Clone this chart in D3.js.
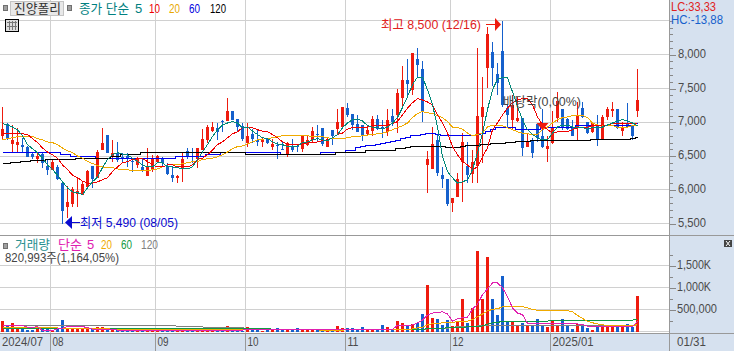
<!DOCTYPE html>
<html><head><meta charset="utf-8">
<script src="https://cdn.jsdelivr.net/npm/d3@7/dist/d3.min.js"></script>
<style>html,body{margin:0;padding:0;background:#fff;overflow:hidden}svg{display:block}
text{font-family:"Liberation Sans","Noto Sans CJK KR",sans-serif;font-size:13px}</style>
</head><body><svg id="c" width="734" height="351"></svg>
<script>
const opens=[6800,6980,6680,6670,6670,6640,6530,6450,6530,6360,6300,6340,6100,5750,5790,5940,5930,6050,6360,6180,6590,6810,6500,6550,6490,6500,6430,6370,6340,6210,6310,6420,6450,6340,6220,6180,6310,6580,6560,6460,6590,6740,6870,6920,7020,7020,7160,7050,6950,6700,6820,6740,6710,6770,6640,6670,6610,6520,6650,6650,6610,6670,6740,6830,6920,6640,6890,6900,6930,7210,7130,6980,6960,6820,6870,7050,6930,6860,7100,7110,7360,7630,7480,7930,7790,6370,6310,6740,6220,6160,5810,5900,6420,6360,6240,6360,7080,7810,8040,7720,8060,7210,7040,7020,7070,6640,6740,6980,6790,6610,6700,7070,7190,7050,6920,6920,7210,7010,6860,6960,6740,7080,7160,7190,6870,6990,6950,7160];
const closes=[6900,6760,6740,6710,6640,6490,6480,6500,6400,6300,6420,6160,5690,5820,6020,5990,6090,6280,6160,6560,6700,6550,6550,6440,6460,6470,6420,6450,6280,6340,6460,6500,6400,6240,6180,6210,6460,6480,6550,6620,6760,6930,6930,6860,7000,7160,7040,6930,6760,6800,6760,6710,6760,6700,6680,6650,6590,6700,6590,6640,6790,6740,6870,6810,6680,6760,6790,7010,7230,7110,6960,6860,6800,6890,7050,6900,6900,7040,7010,7440,7630,7560,8030,7850,7160,6450,6680,6250,6160,5790,5880,6160,6710,6220,6420,7100,7230,8310,7810,7580,7260,7110,7260,7070,6620,6730,6550,6770,6640,6650,6920,7320,6930,6900,6800,7110,7080,6840,6990,6740,7080,7190,7190,6920,6920,6930,6800,7330];
const highs=[7230,6990,6960,6920,6770,6650,6560,6560,6550,6450,6450,6370,6110,6060,6050,6180,6120,6300,6360,6590,6920,6810,6740,6710,6550,6550,6450,6480,6450,6620,6520,6520,6490,6400,6360,6220,6560,6620,6620,6620,6900,6960,7010,6990,7040,7360,7160,7050,6990,6990,6900,6890,6770,6770,6760,6710,6710,6710,6760,6680,6810,6790,6930,6960,6920,6770,6890,7190,7230,7290,7130,7110,6960,6950,7100,7110,7040,7200,7190,7500,7840,7940,8030,8100,7910,6580,6930,6810,6340,6160,5880,6250,6840,6710,6590,8100,7670,8410,8190,7870,8500,7260,7410,7380,7070,6820,6770,6980,7200,6790,7160,7450,7190,7070,7040,7300,7300,7010,7010,7110,7110,7230,7300,7190,7010,7290,6950,7790];
const lows=[6740,6740,6560,6560,6560,6480,6450,6400,6330,6220,6300,6150,5490,5590,5750,5750,5930,6050,6030,6170,6590,6540,6410,6420,6400,6340,6270,6330,6270,6210,6270,6400,6340,6220,6120,6100,6120,6450,6400,6330,6590,6700,6860,6740,6860,7020,7040,6860,6730,6640,6700,6650,6640,6680,6590,6450,6590,6490,6560,6560,6560,6650,6710,6710,6650,6640,6670,6820,6930,7080,6890,6860,6730,6800,6800,6890,6770,6790,6950,6840,7230,7380,7410,7670,7010,5960,6310,6210,6030,5760,5670,5900,5820,6100,6100,6100,6400,7510,7530,7410,7230,6930,6890,7010,6500,6640,6470,6710,6620,6410,6680,7010,6890,6890,6790,6740,7070,6830,6840,6650,6740,7040,7080,6900,6800,6920,6740,7080];

const ma5=[6980,6960,6930,6890,6800,6670,6610,6550,6470,6370,6300,6220,6120,6030,5970,5960,5930,6030,6120,6190,6330,6450,6520,6550,6530,6520,6470,6420,6370,6340,6340,6400,6400,6340,6340,6330,6310,6310,6340,6450,6560,6670,6790,6890,6960,6990,7010,6990,6920,6930,6870,6820,6770,6760,6710,6680,6670,6640,6640,6650,6700,6710,6740,6760,6740,6730,6770,6820,6920,6990,7040,7050,7020,6950,6930,6920,6900,6930,6990,7070,7220,7380,7560,7670,7670,7480,7260,6930,6490,6270,6180,6100,6120,6150,6300,6550,6840,7190,7480,7640,7660,7660,7450,7230,7040,6890,6820,6770,6740,6740,6840,6930,6960,6960,6930,6920,6920,6900,6920,6920,6930,6960,6990,7020,7040,7020,6990,6950];
const ma10=[6840,6840,6840,6840,6830,6820,6760,6700,6620,6560,6520,6470,6370,6300,6220,6180,6130,6100,6100,6120,6150,6180,6270,6340,6400,6420,6450,6460,6460,6420,6370,6340,6340,6370,6370,6340,6340,6340,6370,6450,6470,6520,6590,6670,6710,6770,6830,6860,6920,6930,6920,6890,6870,6860,6820,6770,6710,6680,6670,6670,6680,6700,6700,6710,6730,6740,6770,6820,6840,6900,6920,6920,6930,6930,6950,6960,6960,6960,6980,7010,7110,7210,7290,7350,7330,7300,7260,7110,6990,6840,6640,6520,6420,6370,6300,6340,6490,6620,6890,6990,7110,7210,7290,7330,7350,7350,7260,7080,6960,6890,6840,6860,6860,6860,6890,6920,6930,6930,6950,6950,6960,6960,6980,6980,6980,6980,6980,6990];
const ma20=[6740,6760,6770,6790,6790,6790,6790,6760,6740,6710,6700,6670,6620,6580,6550,6500,6470,6420,6390,6360,6340,6330,6330,6310,6300,6300,6280,6280,6280,6280,6300,6310,6340,6370,6370,6370,6390,6400,6420,6420,6450,6460,6470,6490,6520,6560,6610,6640,6650,6680,6710,6740,6750,6760,6770,6790,6800,6800,6800,6800,6800,6800,6790,6790,6790,6770,6760,6760,6760,6770,6790,6790,6800,6810,6820,6830,6840,6860,6890,6920,6950,6990,7070,7130,7160,7140,7130,7100,7070,7010,6930,6920,6900,6840,6800,6820,6840,6930,6960,6960,6950,6920,6890,6860,6840,6830,6820,6820,6890,6930,6990,7040,7070,7080,7100,7100,7100,7070,6990,6960,6960,6960,6950,6930,6920,6930,6950,6960];
const ma60=[6550,6550,6550,6560,6560,6560,6560,6560,6560,6550,6550,6550,6530,6520,6500,6490,6490,6490,6490,6470,6470,6470,6470,6470,6470,6470,6470,6470,6470,6470,6470,6470,6470,6470,6470,6490,6490,6490,6490,6490,6500,6520,6530,6530,6550,6550,6550,6550,6550,6550,6550,6550,6550,6550,6550,6550,6530,6530,6530,6530,6530,6530,6530,6530,6550,6550,6550,6550,6550,6580,6590,6620,6640,6650,6650,6670,6680,6700,6710,6730,6760,6770,6800,6800,6820,6830,6830,6820,6800,6800,6800,6800,6800,6800,6800,6820,6840,6860,6900,6920,6920,6920,6920,6900,6900,6900,6900,6900,6920,6920,6920,6920,6930,6930,6930,6950,6950,6960,6960,6960,6960,6960,6960,6960,6960,6960,6960,6980];
const ma120=[6390,6390,6400,6400,6420,6420,6430,6430,6430,6450,6450,6450,6450,6450,6450,6460,6460,6460,6460,6460,6460,6470,6490,6490,6520,6520,6530,6530,6550,6550,6550,6550,6560,6560,6560,6560,6560,6560,6560,6560,6550,6550,6550,6550,6550,6560,6560,6560,6550,6530,6530,6530,6530,6530,6530,6530,6530,6530,6530,6530,6530,6530,6520,6520,6520,6520,6530,6550,6550,6560,6560,6560,6560,6580,6580,6580,6590,6590,6590,6610,6610,6620,6640,6640,6640,6640,6640,6640,6640,6620,6620,6620,6640,6650,6650,6650,6670,6670,6680,6680,6680,6700,6700,6710,6710,6710,6730,6730,6730,6730,6730,6730,6730,6730,6730,6730,6730,6730,6740,6740,6740,6740,6740,6740,6740,6740,6760,6770];

const volumes=[250,145,205,115,85,45,45,70,85,60,30,75,270,70,70,60,60,60,60,115,115,60,50,50,45,30,25,25,30,25,30,25,25,25,30,25,30,25,25,20,25,25,20,25,25,135,25,30,25,115,60,60,25,85,30,85,40,30,30,75,45,45,45,30,30,25,25,135,85,85,85,60,115,60,60,45,145,115,55,235,205,145,180,205,410,1070,320,295,160,270,135,220,730,205,545,1840,750,1690,750,385,1270,250,235,120,195,120,120,295,145,100,235,135,295,145,70,175,145,75,45,160,135,115,135,105,115,180,105,820];
const vol5=[144,144,144,144,144,98,98,110,23,23,23,60,76,114,114,114,114,90,53,53,53,53,53,35,23,35,35,35,35,35,35,35,35,35,35,35,35,35,35,35,35,35,35,35,35,35,35,35,35,45,45,45,45,45,45,45,45,45,45,45,45,45,45,45,45,45,45,45,45,45,45,45,45,45,50,50,50,50,50,144,144,148,150,200,260,375,420,440,447,400,235,290,320,330,510,620,840,970,1105,1105,1000,790,540,420,386,190,174,174,174,174,174,174,174,174,174,174,160,121,121,121,121,121,121,121,121,121,121,235];
const vol20=[90,90,90,90,98,98,98,85,85,85,85,85,68,68,68,68,68,68,68,68,68,68,50,50,50,50,50,50,50,50,50,50,50,50,50,50,50,50,50,50,50,50,50,50,50,50,50,50,50,40,40,40,40,40,40,40,40,40,40,40,40,40,40,40,30,30,30,35,35,40,45,45,45,45,45,45,45,45,45,45,50,50,60,83,98,160,180,190,197,197,210,225,235,240,270,340,400,470,505,520,560,570,580,580,570,540,500,485,485,485,485,485,485,475,450,370,300,235,200,175,155,140,140,140,140,140,135,160];
const vol60=[80,80,80,80,80,80,80,80,80,80,80,80,75,75,75,75,75,75,75,75,75,75,75,75,75,75,75,70,70,70,70,70,70,70,70,70,70,70,70,70,70,70,70,70,70,70,70,70,70,75,75,75,75,75,50,50,50,50,50,50,50,50,50,50,50,50,50,50,50,50,50,50,50,50,50,50,50,50,50,50,50,50,50,50,50,70,70,70,70,95,95,95,95,110,110,110,130,170,200,210,230,235,235,235,235,240,240,240,240,240,245,245,245,250,250,250,250,255,255,255,255,260,260,260,260,260,260,290];
const vol120=[145,145,145,145,145,145,145,145,145,145,145,145,145,145,145,145,145,145,145,145,145,145,145,145,145,145,145,145,145,145,145,145,145,145,145,120,105,105,105,105,105,85,85,85,85,85,85,85,85,70,70,70,70,70,45,45,45,45,45,45,45,45,45,45,45,45,45,45,45,45,45,45,45,45,45,45,45,45,45,45,45,45,45,45,45,60,60,60,60,70,100,110,110,110,110,130,135,140,145,145,145,145,145,145,145,145,145,145,145,145,145,145,145,145,145,145,145,145,145,145,145,145,145,145,145,145,145,150];

const monthLabels=["2024/07","08","09","10","11","12","2025/01"];
const monthIdx=[0,10,31,49,69,90,110];
const priceTicks=[8000,7500,7000,6500,6000,5500];
const priceMinor=[8500,8400,8300,8200,8100,7900,7800,7700,7600,7400,7300,7200,7100,6900,6800,6700,6600,6400,6300,6200,6100,5900,5800,5700,5600];
const volTicks=[1500,1000,500];
const volLabels=["1,500K","1,000K","500,000"];
const volMinor=[1750,1250,750,250];

const RED="#ee1b0e",BLUE="#1560cc",TEAL="#008080";
const svg=d3.select("#c");
const x=d3.scaleLinear().domain([0,127]).range([2.5,637.5]);
const yP=d3.scaleLinear().domain([5500,8500]).range([223.7,20.9]);
const yV=d3.scaleLinear().domain([0,1500]).range([331.6,265.6]);
const snap=v=>Math.floor(v)+.5;

// bands
svg.append("rect").attr("x",670).attr("y",0).attr("width",64).attr("height",351).attr("fill","#d6e1ef");
svg.append("rect").attr("x",0).attr("y",334).attr("width",734).attr("height",17).attr("fill","#d6e1ef");

// grid
const grid=svg.append("g").attr("stroke","#d0d0d0").attr("shape-rendering","crispEdges");
[...priceTicks,8500].forEach(v=>grid.append("line").attr("x1",0).attr("x2",669).attr("y1",snap(yP(v))).attr("y2",snap(yP(v))));
[...volTicks,0].forEach(v=>grid.append("line").attr("x1",0).attr("x2",669).attr("y1",snap(yV(v))).attr("y2",snap(yV(v))));
monthIdx.slice(1).forEach(i=>{const X=snap(x(i)-2);
  grid.append("line").attr("x1",X).attr("x2",X).attr("y1",0).attr("y2",333);
  svg.append("line").attr("x1",X).attr("x2",X).attr("y1",334).attr("y2",351).attr("stroke","#999").attr("shape-rendering","crispEdges");});

// candles
const idx=d3.range(opens.length);
const colorOf=i=>closes[i]>=opens[i]?RED:BLUE;
const cg=svg.append("g").attr("shape-rendering","crispEdges");
cg.selectAll("line").data(idx).join("line")
 .attr("x1",i=>x(i)).attr("x2",i=>x(i)).attr("y1",i=>yP(highs[i])).attr("y2",i=>yP(lows[i])).attr("stroke",colorOf);
cg.selectAll("rect").data(idx).join("rect")
 .attr("x",i=>x(i)-1.5).attr("width",3)
 .attr("y",i=>yP(Math.max(opens[i],closes[i])))
 .attr("height",i=>Math.max(1,Math.abs(yP(opens[i])-yP(closes[i]))))
 .attr("fill",colorOf);

// price MAs
const lineP=d3.line().x((d,i)=>x(i)).y(d=>yP(d));
const stepP=d3.line().x((d,i)=>x(i)).y(d=>yP(d)).curve(d3.curveStep);
svg.append("path").attr("d",stepP(ma60)).attr("fill","none").attr("stroke","#0000ee").attr("stroke-width",1).attr("shape-rendering","crispEdges");
svg.append("path").attr("d",stepP(ma120)).attr("fill","none").attr("stroke","#000").attr("stroke-width",1).attr("shape-rendering","crispEdges");
[[ma20,"#f0aa00"],[ma10,"#f00000"],[ma5,"#008878"]].forEach(([a,c])=>
 svg.append("path").attr("d",lineP(a)).attr("fill","none").attr("stroke",c).attr("stroke-width",1).attr("shape-rendering","crispEdges"));

// volume
svg.append("g").attr("shape-rendering","crispEdges").selectAll("rect").data(idx).join("rect")
 .attr("x",i=>x(i)-1.5).attr("width",3).attr("y",i=>yV(volumes[i])).attr("height",i=>332-yV(volumes[i])).attr("fill",colorOf);
const lineV=d3.line().x((d,i)=>x(i)).y(d=>yV(d));
[[vol120,"#808080"],[vol60,"#119a44"],[vol20,"#f0aa00"],[vol5,"#e020b0"]].forEach(([a,c])=>
 svg.append("path").attr("d",lineV(a)).attr("fill","none").attr("stroke",c).attr("stroke-width",1).attr("shape-rendering","crispEdges"));

// frame lines
const fr=svg.append("g").attr("stroke","#999").attr("shape-rendering","crispEdges");
fr.append("line").attr("x1",0).attr("x2",734).attr("y1",235.5).attr("y2",235.5);
fr.append("line").attr("x1",0).attr("x2",734).attr("y1",333.5).attr("y2",333.5);
fr.append("line").attr("x1",669.5).attr("x2",669.5).attr("y1",0).attr("y2",351);

// axes
function styleAxis(g){g.select(".domain").remove();g.selectAll("line").attr("stroke","#888").attr("shape-rendering","crispEdges");
 g.selectAll("text").attr("fill","#4a4a4a").style("font-size","13px").attr("dy","0.2em")
  .attr("textLength",function(){const n=this.textContent.length;return n==5?28:n==6?34:40;}).attr("lengthAdjust","spacingAndGlyphs");}
const axPMinor=d3.axisRight(yP).tickValues(priceMinor).tickSize(3).tickFormat(()=> "");
svg.append("g").attr("transform","translate(670,0)").call(axPMinor).call(g=>{g.select(".domain").remove();g.selectAll("line").attr("stroke","#888").attr("shape-rendering","crispEdges");g.selectAll("text").remove();});
const axP=d3.axisRight(yP).tickValues(priceTicks).tickSize(6).tickPadding(2).tickFormat(d3.format(","));
svg.append("g").attr("transform","translate(670,0)").call(axP).call(styleAxis);
const axVMinor=d3.axisRight(yV).tickValues(volMinor).tickSize(3).tickFormat(()=> "");
svg.append("g").attr("transform","translate(670,0)").call(axVMinor).call(g=>{g.select(".domain").remove();g.selectAll("line").attr("stroke","#888").attr("shape-rendering","crispEdges");g.selectAll("text").remove();});
const axV=d3.axisRight(yV).tickValues(volTicks).tickSize(6).tickPadding(1).tickFormat((d,i)=>volLabels[i]);
svg.append("g").attr("transform","translate(670,0)").call(axV).call(styleAxis);

function T(s,xp,yp,c,o={}){const t=svg.append("text").attr("x",xp).attr("y",yp).attr("fill",c).attr("dominant-baseline","central").text(s);
 if(o.w)t.attr("textLength",o.w).attr("lengthAdjust","spacingAndGlyphs");
 if(o.a)t.attr("text-anchor",o.a);return t;}

// x labels
monthLabels.forEach((s,i)=>{const xp=i==0?2:x(monthIdx[i]);T(s,xp,341,"#4a4a4a",{w:(s.length>2?41:11)});});
T("01/31",677,341,"#4a4a4a",{w:29});

// header
const sq=(a,b)=>svg.append("rect").attr("x",a+.5).attr("y",b+.5).attr("width",4).attr("height",5).attr("fill","#a0a0a0").attr("stroke","#707070").attr("shape-rendering","crispEdges");
sq(3,5);sq(67,5);sq(3,243);
svg.append("rect").attr("x",10.5).attr("y",1.5).attr("width",53).attr("height",14).attr("fill","#e8e8e8").attr("stroke","#c4c4c4").attr("shape-rendering","crispEdges");
T("진양폴리",14,8.5,"#333",{w:47});
T("종가 단순",79,8,TEAL,{w:50});
T("5",135,8,TEAL);T("10",149,8,"#f00000",{w:11});T("20",169,8,"#e8a800",{w:11});T("60",189,8,"#0000e0",{w:11});T("120",210,8,"#000",{w:16});
// table icon
const ic=svg.append("g").attr("shape-rendering","crispEdges");
ic.append("rect").attr("x",5.5).attr("y",19.5).attr("width",13).attr("height",12).attr("fill","#ddd").attr("stroke","#000");
[9.5,12.5,15.5].forEach(v=>ic.append("line").attr("x1",v).attr("x2",v).attr("y1",21).attr("y2",30).attr("stroke","#777"));
[22.5,26.5].forEach(v=>ic.append("line").attr("x1",7).attr("x2",17).attr("y1",v).attr("y2",v).attr("stroke","#777"));

// volume legend
T("거래량",15,244,"#2b9090",{w:35});T("단순",58,244,"#e020b0",{w:24});T("5",87,244,"#e020b0");
T("20",101,244,"#f0aa00",{w:11});T("60",121,244,"#119a44",{w:11});T("120",141,244,"#808080",{w:17});
T("820,993주(1,164,05%)",5,257.5,"#444",{w:114});

// LC / HC
T("LC:33,33",671,6.5,"#e02020",{w:45});T("HC:-13,88",671,19.5,"#1560cc",{w:52});

// annotations
const arrow=(x1,x2,yy,c,head)=>{svg.append("line").attr("x1",x1).attr("x2",x2).attr("y1",yy).attr("y2",yy).attr("stroke",c).attr("shape-rendering","crispEdges");
 svg.append("path").attr("d",d3.line()(head)).attr("fill",c);};
const yHi=24.5,yLo=222.5;
T("최고 8,500 (12/16)",381,yHi,"#e02020",{w:100});
arrow(486,496,yHi,"#ee1b0e",[[495,18],[501,yHi],[495,31]]);
T("최저 5,490 (08/05)",80,yLo,"#0a0ad0",{w:98});
arrow(70,80,yLo,"#0a0ad0",[[65,yLo],[72,216],[72,229]]);
T("배당락(0,00%)",503,101,"#444",{w:78});
const tx=x(108);
svg.append("path").attr("d",d3.line()([[tx-6,123],[tx+6,123],[tx,130]])).attr("fill",RED);

// small icon
svg.append("rect").attr("x",724).attr("y",240).attr("width",8).attr("height",7).attr("fill","#444");
svg.append("path").attr("d","M726 241L730 246M730 241L726 246").attr("stroke","#fff").attr("fill","none");
</script></body></html>
